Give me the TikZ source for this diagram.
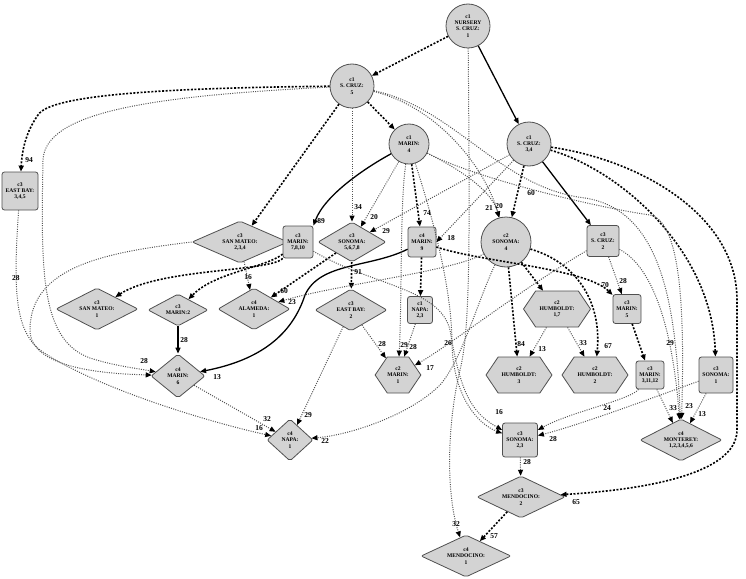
\documentclass[tikz,border=0pt]{standalone}
\usepackage{fontspec}
\setmainfont{Liberation Serif}
\usetikzlibrary{arrows.meta,shapes.geometric,shapes.symbols}
\definecolor{nfill}{HTML}{D3D3D3}
\definecolor{nborder}{HTML}{505050}
\definecolor{dotc}{HTML}{555555}
\begin{document}
\begin{tikzpicture}[x=1pt,y=-1pt,
  base/.style={draw=nborder, fill=nfill, line width=0.8pt, inner sep=0pt, align=center, font=\fontsize{5.6}{6.2}\selectfont\bfseries},
  circ/.style={base, circle, minimum size=#1},
  box/.style 2 args={base, rectangle, rounded corners=2.5pt, minimum width=#1, minimum height=#2},
  dia/.style 2 args={base, diamond, rounded corners=2pt, aspect=1.5, minimum width=#1, minimum height=#2},
  hex/.style 2 args={base, signal, signal to=east and west, signal pointer angle=112, minimum width=#1, minimum height=#2},
  lbl/.style={font=\fontsize{7.5}{8}\selectfont\bfseries, inner sep=0pt},
  tip/.style={-{Triangle[length=6pt,width=5pt,black]}},
  sol/.style={tip, line width=1.3pt, black},
  bdash/.style={tip, line width=1.6pt, black, dash pattern=on 2pt off 1.6pt},
  dot/.style={tip, line width=1pt, dotc, dash pattern=on 1pt off 1.3pt},
]
\useasboundingbox (0,0) rectangle (746,578);

% nodes
\node[circ=44pt] (n0) at (468,26) {c1\\NURSERY\\S. CRUZ:\\1};
\node[circ=44pt] (sc5) at (352,86) {c1\\S. CRUZ:\\5};
\node[circ=40pt] (m4) at (409,144) {c1\\MARIN:\\4};
\node[circ=44pt] (sc34) at (529,144) {c1\\S. CRUZ:\\3,4};
\node[box={36pt}{38pt}] (eb345) at (20,191) {c3\\EAST BAY:\\3,4,5};
\node[dia={96pt}{42pt}] (sm234) at (240,242) {c3\\SAN MATEO:\\2,3,4};
\node[box={30pt}{32pt}] (m7810) at (298,242) {c3\\MARIN:\\7,8,10};
\node[dia={68pt}{40pt}] (son5678) at (352,242) {c3\\SONOMA:\\5,6,7,8};
\node[box={28pt}{30pt}] (m9) at (422,242) {c4\\MARIN:\\9};
\node[circ=50pt] (son4) at (506,242) {c2\\SONOMA:\\4};
\node[box={32pt}{31pt}] (sc2) at (603,241) {c3\\S. CRUZ:\\2};
\node[dia={82pt}{42pt}] (sm1) at (97,309) {c3\\SAN MATEO:\\1};
\node[dia={60pt}{32pt}] (marin2) at (178,310) {c3\\MARIN:2};
\node[dia={72pt}{42pt}] (alameda) at (254,309) {c4\\ALAMEDA:\\1};
\node[dia={72pt}{42pt}] (eb2) at (351,310) {c3\\EAST BAY:\\2};
\node[box={25pt}{27pt}] (napa23) at (420,310) {c1\\NAPA:\\2,3};
\node[hex={67pt}{36pt}] (hum17) at (557,309) {c2\\HUMBOLDT:\\1,7};
\node[box={28pt}{29pt}] (m5) at (627,309) {c3\\MARIN:\\5};
\node[dia={54pt}{44pt}] (m6) at (178,376) {c4\\MARIN:\\6};
\node[hex={40pt}{36pt}] (marin1) at (398,375) {c2\\MARIN:\\1};
\node[hex={66pt}{36pt}] (hum3) at (519,375) {c2\\HUMBOLDT:\\3};
\node[hex={66pt}{36pt}] (hum2) at (595,375) {c2\\HUMBOLDT:\\2};
\node[box={28pt}{28pt}] (m31112) at (650,375) {c3\\MARIN:\\3,11,12};
\node[box={34pt}{36pt}] (son1) at (716,375) {c3\\SONOMA:\\1};
\node[dia={46pt}{42pt}] (napa1) at (290,440) {c4\\NAPA:\\1};
\node[box={35pt}{34pt}] (son23) at (520,440) {c3\\SONOMA:\\2,3};
\node[dia={82pt}{42pt}] (monterey) at (681,440) {c4\\MONTEREY:\\1,2,3,4,5,6};
\node[dia={88pt}{42pt}] (mend2) at (521,497) {c3\\MENDOCINO:\\2};
\node[dia={90pt}{42pt}] (mend1) at (466,556) {c4\\MENDOCINO:\\1};

% solid
\draw[sol] (n0) -- (sc34);
\draw[sol] (m4) .. controls (365,168) and (325,195) .. (m7810.north east);
\draw[sol] (sc34) -- (sc2);
\draw[sol] (marin2) -- (m6);
\draw[sol] (m9) .. controls (370,268) and (320,262) .. (305,295) .. controls (292,335) and (260,360) .. (m6);

% bold dashed
\draw[bdash] (n0) -- (sc5);
\draw[bdash] (sc5) .. controls (160,88) and (50,95) .. (38,115) .. controls (26,132) and (22,150) .. (eb345);
\draw[bdash] (sc5) -- (sm234);
\draw[bdash] (sc5) -- (m4);
\draw[bdash] (m4) -- (m9);
\draw[bdash] (m9) -- (napa23);
\draw[bdash] (son5678) -- (eb2);
\draw[bdash] (son5678) -- (alameda);
\draw[bdash] (m7810) .. controls (270,272) and (160,268) .. (sm1);
\draw[bdash] (m7810) .. controls (265,268) and (215,272) .. (marin2);
\draw[bdash] (sc34) -- (son4);
\draw[bdash] (son4) -- (hum3);
\draw[bdash] (son4) -- (hum17);
\draw[bdash] (son4) .. controls (575,262) and (602,300) .. (hum2);
\draw[bdash] (m9) .. controls (480,262) and (585,268) .. (m5);
\draw[bdash] (m5) -- (m31112);
\draw[bdash] (sc34) .. controls (620,170) and (712,250) .. (son1);
\draw[bdash] (sc34) .. controls (640,160) and (737,215) .. (737,300) -- (737,430) .. controls (737,475) and (640,490) .. (mend2);
\draw[bdash] (mend2) -- (mend1);

% dotted
\draw[dot] (sc5) .. controls (150,96) and (45,112) .. (43,160) .. controls (41,270) and (40,340) .. (90,358) .. controls (115,366) and (135,368) .. (m6);
\draw[dot] (sc5) -- (son5678);
\draw[dot] (sc5) .. controls (440,108) and (486,170) .. (son4);
\draw[dot] (sc5) .. controls (455,108) and (500,188) .. (585,198) .. controls (660,210) and (676,300) .. (monterey);
\draw[dot] (m4) -- (son5678);
\draw[dot] (m4) .. controls (400,200) and (402,300) .. (marin1);
\draw[dot] (m4) .. controls (465,172) and (492,192) .. (son4);
\draw[dot] (m4) .. controls (480,180) and (600,208) .. (650,215) .. controls (684,222) and (684,330) .. (monterey);
\draw[dot] (m4) .. controls (440,240) and (452,300) .. (452,345) .. controls (454,400) and (480,425) .. (son23);
\draw[dot] (n0) .. controls (470,250) and (470,330) .. (460,370) .. controls (448,420) and (445,490) .. (mend1);
\draw[dot] (sc34) -- (son5678);
\draw[dot] (sc34) -- (m9.east);
\draw[dot] (son4) .. controls (450,272) and (340,284) .. (alameda);
\draw[dot] (son4) .. controls (478,300) and (462,360) .. (440,385) .. controls (410,415) and (350,435) .. (napa1);
\draw[dot] (hum17) -- (hum3);
\draw[dot] (hum17) -- (hum2);
\draw[dot] (sc2) -- (m5);
\draw[dot] (sc2) .. controls (520,290) and (450,345) .. (marin1);
\draw[dot] (sc2) .. controls (650,265) and (672,320) .. (monterey);
\draw[dot] (napa23) -- (marin1);
\draw[dot] (eb2) -- (marin1);
\draw[dot] (eb2) -- (napa1);
\draw[dot] (m7810) .. controls (370,285) and (440,288) .. (450,330) .. controls (460,390) and (470,412) .. (son23);
\draw[dot] (sm234) -- (alameda);
\draw[dot] (sm234.west) .. controls (110,252) and (30,265) .. (30,330) .. controls (30,372) and (120,374) .. (m6);
\draw[dot] (eb345) .. controls (13,290) and (15,330) .. (40,350) .. controls (90,385) and (200,420) .. (napa1);
\draw[dot] (m6) -- (napa1);
\draw[dot] (m31112) .. controls (630,400) and (570,412) .. (son23);
\draw[dot] (m31112) -- (monterey);
\draw[dot] (son1) .. controls (660,395) and (580,425) .. (son23);
\draw[dot] (son1) -- (monterey);
\draw[dot] (son23) -- (mend2);

% labels
\node[lbl] (l1) at (29,160) {94};
\node[lbl] (l2) at (16,278) {28};
\node[lbl] (l3) at (321,221) {89};
\node[lbl] (l4) at (358,207) {34};
\node[lbl] (l5) at (374,217) {20};
\node[lbl] (l6) at (386,231) {29};
\node[lbl] (l7) at (427,213) {74};
\node[lbl] (l8) at (451,238) {18};
\node[lbl] (l9) at (489,208) {21};
\node[lbl] (l10) at (499,206) {20};
\node[lbl] (l11) at (531,193) {60};
\node[lbl] (l12) at (144,361) {28};
\node[lbl] (l13) at (248,277) {16};
\node[lbl] (l14) at (284,291) {60};
\node[lbl] (l15) at (292,302) {23};
\node[lbl] (l16) at (358,272) {91};
\node[lbl] (l17) at (184,340) {28};
\node[lbl] (l18) at (217,377) {13};
\node[lbl] (l19) at (382,344) {28};
\node[lbl] (l20) at (404,345) {29};
\node[lbl] (l21) at (413,347) {28};
\node[lbl] (l22) at (430,368) {17};
\node[lbl] (l23) at (448,343) {26};
\node[lbl] (l24) at (605,285) {70};
\node[lbl] (l25) at (623,281) {28};
\node[lbl] (l26) at (521,344) {84};
\node[lbl] (l27) at (542,349) {13};
\node[lbl] (l28) at (583,343) {33};
\node[lbl] (l29) at (608,346) {67};
\node[lbl] (l30) at (670,343) {29};
\node[lbl] (l31) at (267,419) {32};
\node[lbl] (l32) at (259,428) {16};
\node[lbl] (l33) at (308,415) {29};
\node[lbl] (l34) at (325,441) {22};
\node[lbl] (l35) at (499,412) {16};
\node[lbl] (l36) at (607,408) {24};
\node[lbl] (l37) at (553,439) {28};
\node[lbl] (l38) at (673,408) {33};
\node[lbl] (l39) at (689,406) {23};
\node[lbl] (l40) at (702,414) {13};
\node[lbl] (l41) at (527,462) {28};
\node[lbl] (l42) at (576,502) {65};
\node[lbl] (l43) at (456,524) {32};
\node[lbl] (l44) at (494,536) {57};
\end{tikzpicture}
\end{document}
